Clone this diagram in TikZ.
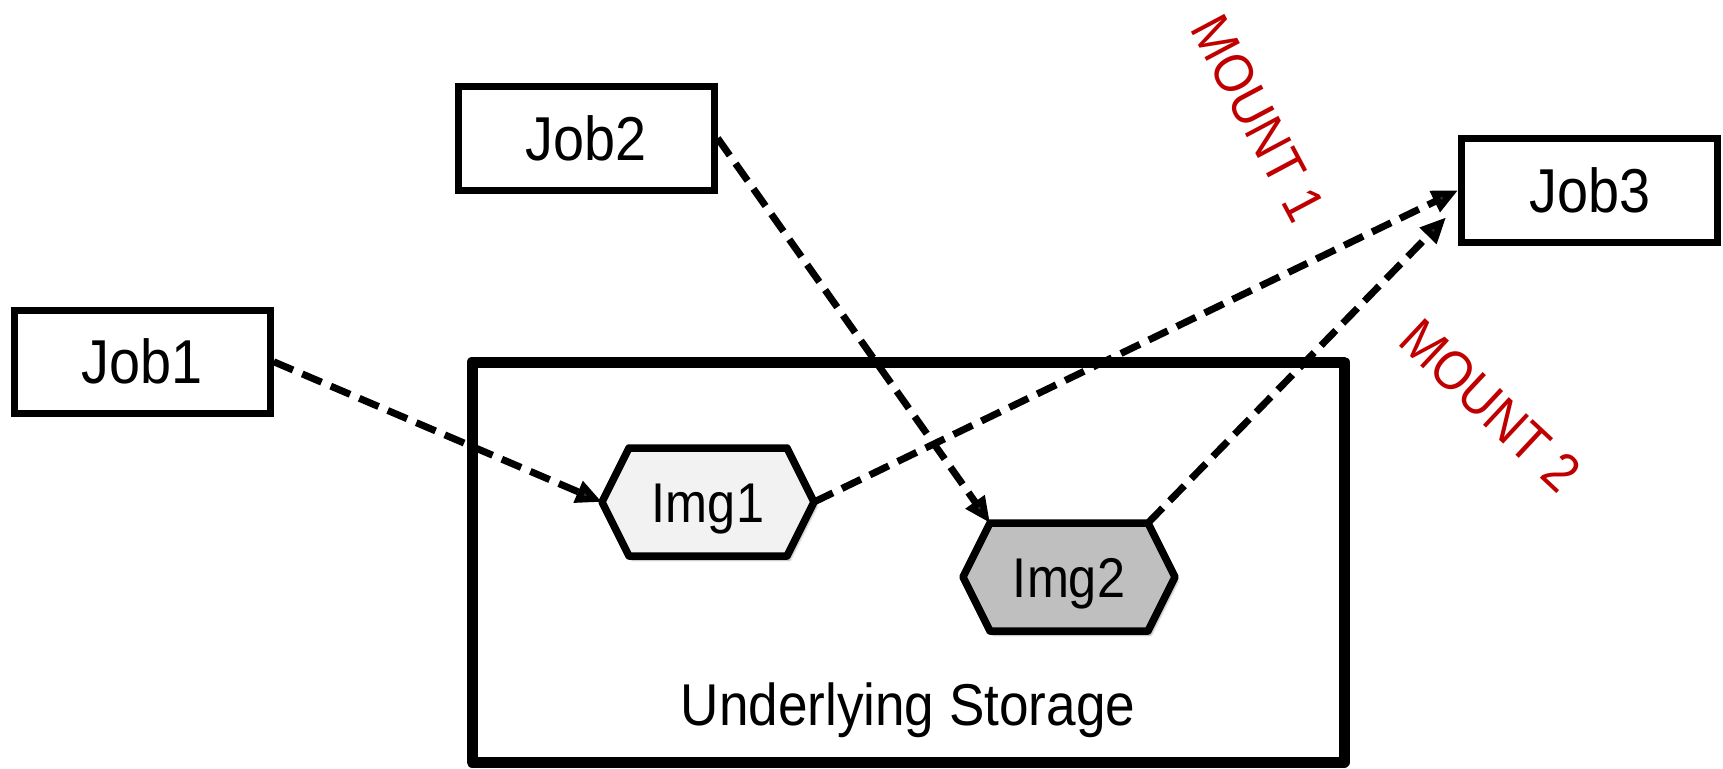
\documentclass[tikz,border=0pt]{standalone}
\usepackage{fontspec}
\setmainfont{Liberation Sans}[FakeStretch=0.9]
\usetikzlibrary{arrows.meta,calc,shadows.blur}
\definecolor{mountred}{HTML}{C00000}
\definecolor{imgone}{HTML}{F2F2F2}
\definecolor{imgtwo}{HTML}{BFBFBF}
\tikzset{
  jobbox/.style={draw=black, line width=7pt, fill=white, minimum width=256pt,
    minimum height=103.5pt, inner sep=0pt, font=\fontsize{62}{70}\selectfont,
    text height=44.4pt, text depth=0pt},
  storebox/.style={draw=black, line width=11pt, line join=round},
  hexline/.style={draw=black, line width=7.5pt, line join=round,
    blur shadow={shadow xshift=3pt, shadow yshift=-4pt, shadow blur steps=6, shadow opacity=35}},
  hexlabel/.style={inner sep=0pt, font=\fontsize{56}{64}\selectfont, text height=40pt, text depth=0pt},
  mountlabel/.style={text=mountred, inner sep=0pt, font=\fontsize{55}{62}\selectfont,
    text height=39.4pt, text depth=0pt},
  storelabel/.style={inner sep=0pt, font=\fontsize{59}{66}\selectfont, text height=42.2pt, text depth=0pt},
  link/.style={line width=7pt, dash pattern=on 21pt off 10pt,
    -{Triangle[length=26pt,width=22pt]}},
}
\begin{document}
\begin{tikzpicture}[x=1pt, y=-1pt]
  \useasboundingbox (0,0) rectangle (1723,768);

  % storage container
  \draw[storebox] (472,362) rectangle (1344,762);
  \node[storelabel] (store) at (908,704) {Underlying Storage};

  % image hexagons
  \coordinate (img1) at (708,502);
  \draw[hexline, fill=imgone]
    ($(img1)+(-106,0)$) coordinate (img1w) -- ++(27,-54) coordinate (img1nw)
    -- ($(img1)+(79,-54)$) coordinate (img1ne) -- ($(img1)+(106,0)$) coordinate (img1e)
    -- ($(img1)+(79,54)$) -- ($(img1)+(-79,54)$) -- cycle;
  \node[hexlabel] at (img1) {Img1};

  \coordinate (img2) at (1069,577);
  \draw[hexline, fill=imgtwo]
    ($(img2)+(-106,0)$) coordinate (img2w) -- ++(27,-54) coordinate (img2nw)
    -- ($(img2)+(79,-54)$) coordinate (img2ne) -- ($(img2)+(106,0)$) coordinate (img2e)
    -- ($(img2)+(79,54)$) -- ($(img2)+(-79,54)$) -- cycle;
  \node[hexlabel] at (img2) {Img2};

  % jobs
  \node[jobbox] (job1) at (142.25,361.75) {Job1};
  \node[jobbox] (job2) at (586.1,138.25) {Job2};
  \node[jobbox] (job3) at (1589.6,190.3) {Job3};

  % mount labels
  \node[mountlabel, rotate=-62] (m1) at (1259,118) {MOUNT 1};
  \node[mountlabel, rotate=-43] (m2) at (1491,405) {MOUNT 2};

  % connectors
  \coordinate (job3in) at ($(job3.west)+(-12,27)$);
  \draw[link] (job1.east) -- (img1w);
  \draw[link] (job2.east) -- (img2nw);
  \draw[link] (img1e) -- (job3.west);
  \draw[link] (img2ne) -- (job3in);
\end{tikzpicture}
\end{document}
